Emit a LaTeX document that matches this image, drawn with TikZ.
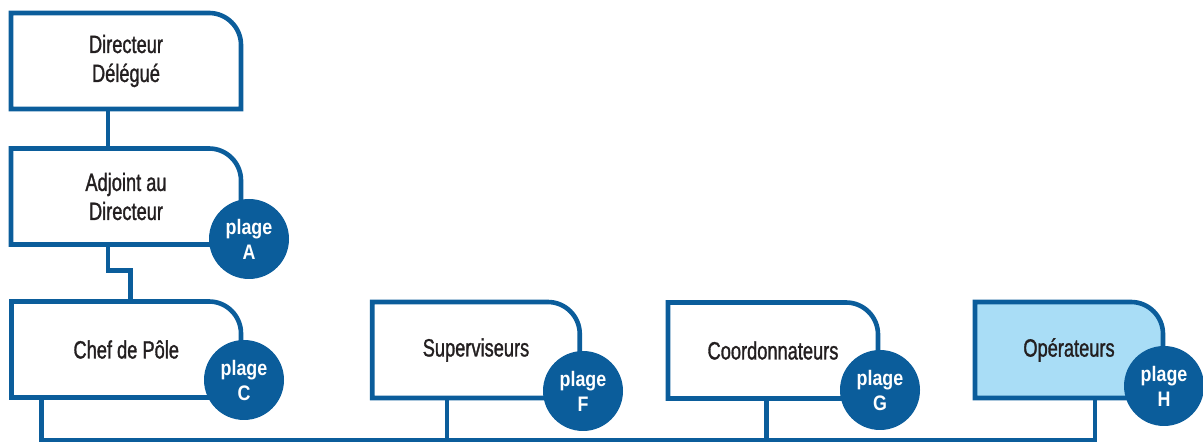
\documentclass[tikz,border=0pt]{standalone}
\usepackage{fontspec}
\usetikzlibrary{backgrounds}
\newfontfamily\orgfont[FakeStretch=0.73,FakeBold=1.2]{Liberation Sans}
\newfontfamily\plagefont[FakeStretch=0.85]{Liberation Sans Bold}
\definecolor{orgblue}{HTML}{0B5D9B}
\definecolor{orglight}{HTML}{A9DDF6}
\definecolor{orgtext}{HTML}{231F20}

\begin{document}
\begin{tikzpicture}[x=0.5pt,y=0.5pt,
	poste/.style={inner sep=0, outer sep=0, align=center, text=orgtext, minimum height=48pt,
		font=\orgfont\fontsize{12.5}{14.5}\selectfont},
	plage/.style={circle, fill=orgblue, inner sep=0, outer sep=0, minimum size=40pt, align=center,
		text=white, font=\plagefont\fontsize{10.5}{12.5}\selectfont},
	lien/.style={draw=orgblue, line width=2.3pt}]
	\useasboundingbox (0,0) rectangle (1203,443);
	\node[poste, minimum width=115pt] (dir) at (126,382) {Directeur\\Délégué};
	\node[poste, minimum width=115pt] (adj) at (126,246.5) {Adjoint au\\Directeur};
	\node[poste, minimum width=114.75pt] (chef) at (126.25,93.5) {Chef de Pôle};
	\node[poste, minimum width=103.75pt] (sup) at (476,93) {Superviseurs};
	\node[poste, minimum width=105pt] (coord) at (773,92.5) {Coordonnateurs};
	\node[poste, minimum width=94pt] (oper) at (1069,93) {Opérateurs};
	\coordinate (bus) at (0,3);
	\begin{scope}[on background layer]
		\foreach \n in {dir,adj,chef,sup,coord}
			\draw[lien] (\n.south east) -- ([yshift=-16pt]\n.north east) arc[start angle=0,end angle=90,radius=16pt] -- (\n.north west) -- (\n.south west) -- cycle;
		\draw[lien, fill=orglight] (oper.south east) -- ([yshift=-16pt]oper.north east) arc[start angle=0,end angle=90,radius=16pt] -- (oper.north west) -- (oper.south west) -- cycle;
		\draw[lien] ([xshift=-9pt]dir.south) -- ([xshift=-9pt]adj.north);
		\draw[lien] ([xshift=-9pt]adj.south) -- ++(0,-26) -| ([xshift=2pt]chef.north);
		\draw[lien] ([xshift=-42.25pt]chef.south) |- ([xshift=13pt]oper.south |- bus) -- ([xshift=13pt]oper.south);
		\draw[lien] ([xshift=-14.5pt]sup.south) -- ([xshift=-14.5pt]sup.south |- bus);
		\draw[lien] ([xshift=-3.25pt]coord.south) -- ([xshift=-3.25pt]coord.south |- bus);
	\end{scope}
	\node[plage] (pa) at (249,204) {plage\\A};
	\node[plage] (pc) at (244,63) {plage\\C};
	\node[plage] (pf) at (583,52) {plage\\F};
	\node[plage] (pg) at (880,53) {plage\\G};
	\node[plage] (ph) at (1164,57) {plage\\H};
\end{tikzpicture}
\end{document}
